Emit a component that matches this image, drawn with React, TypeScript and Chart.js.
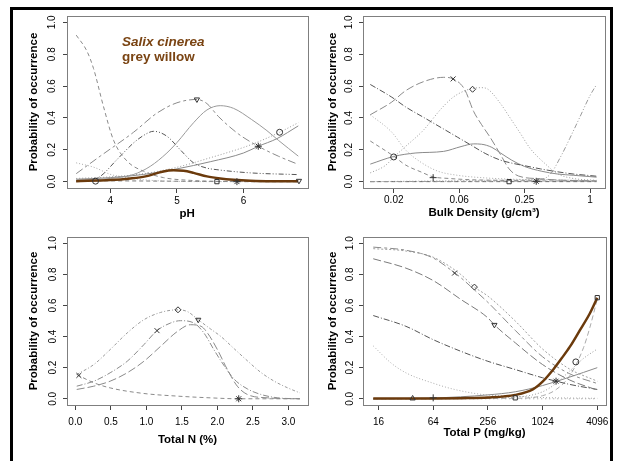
import React, { useEffect, useRef } from "react";
import { Chart, registerables } from "chart.js";

Chart.register(...registerables);

const FONT = '"Liberation Sans", Arial, Helvetica, sans-serif';
const W = 622;
const H = 461;

const yTicks = [0, 0.2, 0.4, 0.6, 0.8, 1.0];
const yTickLabels = ["0.0", "0.2", "0.4", "0.6", "0.8", "1.0"];
const yTitle = "Probability of occurrence";
const speciesLatin = "Salix cinerea";
const speciesCommon = "grey willow";

// ---------- Panel 1: pH ----------
const phTicks = [4, 5, 6];
const phTickLabels = ["4", "5", "6"];
const phDashFalling = [[3.49, 0.92], [3.65, 0.82], [3.75, 0.71], [3.9, 0.47], [4.05, 0.26], [4.25, 0.13], [4.5, 0.065], [4.8, 0.025], [5.2, 0.008], [5.6, 0.002], [6.2, 0], [6.82, 0]];
const phLongDashDot = [[3.49, 0.05], [3.85, 0.16], [4.35, 0.31], [4.7, 0.43], [5.0, 0.495], [5.3, 0.516], [5.45, 0.49], [5.62, 0.41], [5.92, 0.3], [6.22, 0.222], [6.52, 0.16], [6.82, 0.108]];
const phSolidPeak = [[3.49, 0.01], [4.0, 0.02], [4.35, 0.045], [4.6, 0.096], [4.85, 0.18], [5.0, 0.245], [5.25, 0.37], [5.45, 0.45], [5.65, 0.477], [5.85, 0.46], [6.12, 0.39], [6.35, 0.32], [6.52, 0.26], [6.82, 0.16]];
const phDashDotDot = [[3.49, 0.0], [3.7, 0.01], [3.85, 0.033], [4.1, 0.138], [4.35, 0.243], [4.5, 0.29], [4.65, 0.316], [4.85, 0.285], [5.05, 0.2], [5.25, 0.118], [5.45, 0.085], [5.6, 0.075], [6.1, 0.055], [6.82, 0.044]];
const phSolidRising = [[3.49, 0.015], [4.0, 0.025], [4.5, 0.045], [5.0, 0.08], [5.5, 0.125], [6.0, 0.18], [6.22, 0.222], [6.5, 0.27], [6.82, 0.35]];
const phDottedRising = [[3.49, 0.02], [4.0, 0.03], [4.5, 0.05], [5.0, 0.09], [5.5, 0.15], [6.0, 0.215], [6.22, 0.25], [6.54, 0.31], [6.82, 0.37]];
const phDottedFalling = [[3.49, 0.118], [3.77, 0.088], [4.0, 0.046], [4.25, 0.025], [4.5, 0.012], [4.8, 0.004], [5.5, 0], [6.82, 0]];
const phZero = [[3.49, 0.006], [4.5, 0.004], [5.5, 0.001], [6.82, 0]];
const phWillow = [[3.49, 0.003], [4.0, 0.01], [4.3, 0.02], [4.53, 0.033], [4.78, 0.062], [4.95, 0.071], [5.1, 0.068], [5.25, 0.055], [5.45, 0.033], [5.65, 0.02], [5.85, 0.012], [6.1, 0.006], [6.4, 0.003], [6.82, 0.003]];
const phMarkX = [5.3, 6.54, 6.22, 3.78, 5.6, 5.9, 6.83];
const phMarkY = [0.516, 0.31, 0.222, 0.003, 0.0, 0.0, 0.005];
const phMarkStyle = ["triDown", "circle", "star", "circle", "rect", "star", "triDown"];

// ---------- Panel 2: Bulk density ----------
const bdTicks = [0.015625, 0.0625, 0.25, 1];
const bdTickLabels = ["0.02", "0.06", "0.25", "1"];
const bdDarkDashDot = [[0.0095, 0.61], [0.015, 0.53], [0.02, 0.47], [0.03, 0.4], [0.045, 0.33], [0.06, 0.28], [0.08, 0.23], [0.11, 0.175], [0.15, 0.135], [0.2, 0.113], [0.25, 0.1], [0.35, 0.08], [0.5, 0.062], [0.7, 0.048], [1.0, 0.038], [1.15, 0.034]];
const bdLongDash = [[0.0095, 0.42], [0.015, 0.5], [0.02, 0.57], [0.03, 0.63], [0.045, 0.655], [0.055, 0.645], [0.07, 0.58], [0.085, 0.44], [0.1, 0.36], [0.12, 0.28], [0.15, 0.17], [0.18, 0.08], [0.22, 0.035], [0.35, 0.018], [0.5, 0.01], [1.15, 0.004]];
const bdDottedPeak = [[0.0095, 0.055], [0.013, 0.1], [0.016, 0.16], [0.02, 0.22], [0.029, 0.32], [0.043, 0.46], [0.055, 0.53], [0.07, 0.57], [0.083, 0.585], [0.1, 0.59], [0.115, 0.58], [0.15, 0.49], [0.184, 0.4], [0.23, 0.3], [0.28, 0.21], [0.39, 0.11], [0.5, 0.05], [0.7, 0.02], [1.15, 0.008]];
const bdDottedFalling = [[0.0095, 0.42], [0.015, 0.31], [0.02, 0.2], [0.028, 0.12], [0.04, 0.065], [0.06, 0.04], [0.1, 0.025], [0.2, 0.015], [0.5, 0.01], [1.15, 0.005]];
const bdSolid = [[0.0095, 0.11], [0.0156, 0.158], [0.025, 0.18], [0.045, 0.19], [0.065, 0.22], [0.085, 0.237], [0.1, 0.235], [0.125, 0.215], [0.15, 0.18], [0.19, 0.135], [0.25, 0.095], [0.36, 0.065], [0.5, 0.048], [0.7, 0.04], [1.15, 0.028]];
const bdDashFalling = [[0.0095, 0.255], [0.0156, 0.16], [0.02, 0.105], [0.028, 0.06], [0.036, 0.03], [0.05, 0.02], [0.08, 0.012], [0.15, 0.008], [0.3, 0.005], [1.15, 0.003]];
const bdRisingRight = [[0.0095, 0.0], [0.1, 0.002], [0.25, 0.004], [0.33, 0.008], [0.43, 0.046], [0.55, 0.17], [0.65, 0.27], [0.8, 0.4], [1.0, 0.54], [1.15, 0.61]];
const bdZero = [[0.0095, 0.0], [1.15, 0.0]];
const bdNearZero = [[0.0095, 0.0], [0.1, 0.008], [0.3, 0.012], [1.15, 0.005]];
const bdMarkX = [0.055, 0.083, 0.0156, 0.036, 0.18, 0.32];
const bdMarkY = [0.645, 0.58, 0.155, 0.025, 0.0, 0.002];
const bdMarkStyle = ["crossRot", "rectRot", "circle", "cross", "rect", "star"];

// ---------- Panel 3: Total N ----------
const nTicks = [0, 0.5, 1.0, 1.5, 2.0, 2.5, 3.0];
const nTickLabels = ["0.0", "0.5", "1.0", "1.5", "2.0", "2.5", "3.0"];
const nWide = [[0.02, 0.156], [0.26, 0.22], [0.49, 0.316], [0.73, 0.423], [0.965, 0.508], [1.2, 0.555], [1.445, 0.572], [1.58, 0.56], [1.73, 0.508], [1.9, 0.45], [2.05, 0.4], [2.24, 0.32], [2.42, 0.245], [2.61, 0.17], [2.8, 0.113], [2.99, 0.07], [3.16, 0.038]];
const nDashDot = [[0.02, 0.081], [0.26, 0.113], [0.49, 0.167], [0.73, 0.241], [0.965, 0.348], [1.15, 0.438], [1.34, 0.487], [1.48, 0.502], [1.67, 0.487], [1.81, 0.423], [1.95, 0.316], [2.1, 0.209], [2.24, 0.124], [2.42, 0.064], [2.61, 0.028], [2.85, 0.006], [3.16, 0.0]];
const nLongDash = [[0.02, 0.06], [0.26, 0.081], [0.49, 0.113], [0.73, 0.167], [0.965, 0.241], [1.2, 0.337], [1.44, 0.434], [1.62, 0.476], [1.77, 0.466], [1.86, 0.423], [2.0, 0.316], [2.14, 0.188], [2.28, 0.081], [2.42, 0.028], [2.71, 0.006], [3.16, 0.0]];
const nDashFalling = [[0.02, 0.156], [0.26, 0.103], [0.49, 0.07], [0.965, 0.034], [1.44, 0.017], [1.9, 0.006], [2.3, 0.0], [3.16, 0.0]];
const nMarkX = [1.445, 1.73, 1.15, 2.3, 0.05];
const nMarkY = [0.572, 0.508, 0.438, 0.0, 0.15];
const nMarkStyle = ["rectRot", "triDown", "crossRot", "star", "crossRot"];

// ---------- Panel 4: Total P ----------
const pTicks = [16, 64, 256, 1024, 4096];
const pTickLabels = ["16", "64", "256", "1024", "4096"];
const pTopCross = [[14, 0.975], [32, 0.955], [64, 0.905], [110, 0.81], [128, 0.78], [182, 0.7], [256, 0.62], [512, 0.44], [1024, 0.27], [2048, 0.16], [4096, 0.098]];
const pTopDiamond = [[14, 0.965], [32, 0.95], [64, 0.91], [128, 0.8], [182, 0.718], [256, 0.66], [512, 0.5], [1024, 0.32], [2048, 0.19], [4096, 0.113]];
const pLongDash = [[14, 0.9], [32, 0.84], [64, 0.76], [128, 0.64], [256, 0.52], [302, 0.475], [512, 0.36], [1024, 0.22], [2048, 0.12], [4096, 0.056]];
const pDarkDashDot = [[14, 0.535], [32, 0.466], [64, 0.38], [128, 0.306], [256, 0.241], [512, 0.188], [1024, 0.135], [1448, 0.113], [2048, 0.092], [4096, 0.06]];
const pDottedFalling = [[14, 0.34], [22, 0.23], [32, 0.167], [64, 0.1], [110, 0.06], [220, 0.028], [512, 0.015], [1024, 0.008], [4096, 0.003]];
const pSolidRising = [[14, 0.0], [64, 0.005], [256, 0.025], [512, 0.045], [1024, 0.085], [2048, 0.14], [4096, 0.2]];
const pDottedRising = [[14, 0.0], [256, 0.005], [512, 0.01], [1024, 0.045], [1448, 0.1], [2048, 0.18], [2896, 0.26], [4096, 0.32]];
const pDashSteep = [[14, 0.0], [512, 0.003], [1024, 0.02], [1448, 0.06], [2048, 0.15], [2896, 0.33], [3400, 0.46], [4096, 0.64]];
const pZero = [[14, 0.0], [4096, 0.0]];
const pWillow = [[14, 0.001], [64, 0.002], [128, 0.004], [256, 0.008], [512, 0.025], [800, 0.06], [1024, 0.11], [1350, 0.19], [1660, 0.26], [2048, 0.335], [2630, 0.44], [3400, 0.55], [4096, 0.65]];
const pMarkX = [110, 182, 302, 1440, 2380, 4096, 512, 38, 64];
const pMarkY = [0.808, 0.718, 0.475, 0.113, 0.237, 0.65, 0.006, 0.002, 0.006];
const pMarkStyle = ["crossRot", "rectRot", "triDown", "star", "circle", "rect", "rect", "triangle", "cross"];

const BROWN = "#6b3a0c";
const DASH = [4, 3];
const LONGDASH = [8, 3];
const DOT = [1, 2];
const DASHDOT = [6, 2, 1, 2];
const DASHDOTDOT = [5, 2, 1, 2, 1, 2];
const TWODASH = [8, 3, 3, 3];

type Curve = { pts: number[][]; color: string; dash: number[]; width?: number };
type Panel = {
  id: string;
  box: number[];
  xType: string;
  xMin: number;
  xMax: number;
  xTicks: number[];
  xLabels: string[];
  xTitle: string;
  xTickY: number;
  xTitleY: number;
  yTickOff: number;
  yTitleOff: number;
  curves: Curve[];
  markX: number[];
  markY: number[];
  markStyle: string[];
  species?: boolean;
};

const panels: Panel[] = [
  {
    id: "ph", box: [67, 16, 307.5, 188], xType: "linear", xMin: 3.352, xMax: 6.958,
    xTicks: phTicks, xLabels: phTickLabels, xTitle: "pH", xTickY: 201, xTitleY: 214, yTickOff: 14.5, yTitleOff: 33,
    curves: [
      { pts: phWillow, color: BROWN, dash: [], width: 2.5 },
      { pts: phDashFalling, color: "#8a8a8a", dash: DASH },
      { pts: phLongDashDot, color: "#8a8a8a", dash: TWODASH },
      { pts: phSolidPeak, color: "#9a9a9a", dash: [] },
      { pts: phDashDotDot, color: "#555555", dash: DASHDOTDOT },
      { pts: phSolidRising, color: "#8a8a8a", dash: [] },
      { pts: phDottedRising, color: "#9a9a9a", dash: DOT },
      { pts: phDottedFalling, color: "#aaaaaa", dash: DOT },
      { pts: phZero, color: "#777777", dash: DASH },
    ],
    markX: phMarkX, markY: phMarkY, markStyle: phMarkStyle, species: true,
  },
  {
    id: "bd", box: [363, 16, 605, 188], xType: "logarithmic", xMin: 0.00814, xMax: 1.374,
    xTicks: bdTicks, xLabels: bdTickLabels, xTitle: "Bulk Density (g/cm\u00B3)", xTickY: 200.5, xTitleY: 213, yTickOff: 13.5, yTitleOff: 30.5,
    curves: [
      { pts: bdDarkDashDot, color: "#555555", dash: DASHDOT },
      { pts: bdLongDash, color: "#8a8a8a", dash: LONGDASH },
      { pts: bdDottedPeak, color: "#9a9a9a", dash: DOT },
      { pts: bdDottedFalling, color: "#aaaaaa", dash: DOT },
      { pts: bdSolid, color: "#8a8a8a", dash: [] },
      { pts: bdDashFalling, color: "#8a8a8a", dash: DASH },
      { pts: bdRisingRight, color: "#9a9a9a", dash: DASHDOTDOT },
      { pts: bdZero, color: "#666666", dash: DASH },
      { pts: bdNearZero, color: "#aaaaaa", dash: DOT },
    ],
    markX: bdMarkX, markY: bdMarkY, markStyle: bdMarkStyle,
  },
  {
    id: "n", box: [67, 237, 308, 405], xType: "linear", xMin: -0.117, xMax: 3.275,
    xTicks: nTicks, xLabels: nTickLabels, xTitle: "Total N (%)", xTickY: 422, xTitleY: 440, yTickOff: 14, yTitleOff: 33.5,
    curves: [
      { pts: nWide, color: "#9a9a9a", dash: [3, 2, 1, 2] },
      { pts: nDashDot, color: "#8a8a8a", dash: DASHDOT },
      { pts: nLongDash, color: "#8a8a8a", dash: LONGDASH },
      { pts: nDashFalling, color: "#8a8a8a", dash: DASH },
    ],
    markX: nMarkX, markY: nMarkY, markStyle: nMarkStyle,
  },
  {
    id: "p", box: [363, 237, 606, 405], xType: "logarithmic", xMin: 10.8, xMax: 5110,
    xTicks: pTicks, xLabels: pTickLabels, xTitle: "Total P (mg/kg)", xTickY: 422, xTitleY: 433, yTickOff: 13, yTitleOff: 30.5,
    curves: [
      { pts: pWillow, color: BROWN, dash: [], width: 2.5 },
      { pts: pTopCross, color: "#8a8a8a", dash: TWODASH },
      { pts: pTopDiamond, color: "#a0a0a0", dash: [2, 2] },
      { pts: pLongDash, color: "#7a7a7a", dash: LONGDASH },
      { pts: pDarkDashDot, color: "#555555", dash: DASHDOT },
      { pts: pDottedFalling, color: "#aaaaaa", dash: DOT },
      { pts: pSolidRising, color: "#8a8a8a", dash: [] },
      { pts: pDottedRising, color: "#9a9a9a", dash: DOT },
      { pts: pDashSteep, color: "#aaaaaa", dash: [5, 3] },
      { pts: pZero, color: "#999999", dash: [1, 3] },
    ],
    markX: pMarkX, markY: pMarkY, markStyle: pMarkStyle,
  },
];

function PanelChart({ panel }: { panel: Panel }) {
  const ref = useRef<HTMLCanvasElement | null>(null);
  useEffect(() => {
    const canvas = ref.current;
    if (!canvas) return;
    const [l, t, r, b] = panel.box;
    const deco = {
      id: "deco_" + panel.id,
      afterDraw(chart: any) {
        const ctx = chart.ctx;
        const a = chart.chartArea;
        ctx.save();
        ctx.strokeStyle = "#7f7f7f";
        ctx.lineWidth = 1;
        ctx.setLineDash([]);
        ctx.strokeRect(Math.round(a.left) + 0.5, Math.round(a.top) + 0.5, Math.round(a.right - a.left), Math.round(a.bottom - a.top));
        ctx.fillStyle = "#000";
        ctx.textAlign = "center";
        ctx.textBaseline = "middle";
        ctx.font = `10px ${FONT}`;
        yTicks.forEach((v, i) => {
          const py = chart.scales.y.getPixelForValue(v);
          ctx.save();
          ctx.translate(a.left - panel.yTickOff, py);
          ctx.rotate(-Math.PI / 2);
          ctx.fillText(yTickLabels[i], 0, 0);
          ctx.restore();
        });
        panel.xTicks.forEach((v, i) => {
          const px = chart.scales.x.getPixelForValue(v);
          ctx.fillText(panel.xLabels[i], px, panel.xTickY);
        });
        ctx.font = `bold 11.5px ${FONT}`;
        ctx.save();
        ctx.translate(a.left - panel.yTitleOff, (a.top + a.bottom) / 2);
        ctx.rotate(-Math.PI / 2);
        ctx.fillText(yTitle, 0, 0);
        ctx.restore();
        ctx.fillText(panel.xTitle, (a.left + a.right) / 2, panel.xTitleY);
        if (panel.species) {
          ctx.fillStyle = "#7a4413";
          ctx.textAlign = "left";
          ctx.font = `italic bold 13.5px ${FONT}`;
          ctx.fillText(speciesLatin, 122, 42);
          ctx.font = `bold 13.5px ${FONT}`;
          ctx.fillText(speciesCommon, 122, 57);
        }
        ctx.restore();
      },
    };

    const markerDataset: any = {
      type: "line",
      showLine: false,
      data: panel.markX.map((x, i) => ({ x, y: panel.markY[i] })),
      pointStyle: panel.markStyle.map((s) => (s === "triDown" ? "triangle" : s)),
      rotation: panel.markStyle.map((s) => (s === "triDown" ? 180 : 0)),
      pointRadius: panel.markStyle.map((s) => (s === "star" || s === "cross" || s === "crossRot" ? 3.5 : 3)),
      pointBorderColor: "#333",
      pointBackgroundColor: "rgba(0,0,0,0)",
      pointBorderWidth: 1,
      borderColor: "#333",
      backgroundColor: "rgba(0,0,0,0)",
    };

    const lineDatasets: any[] = panel.curves.map((c) => ({
      type: "line",
      data: c.pts.map(([x, y]) => ({ x, y })),
      borderColor: c.color,
      borderWidth: c.width ?? 1,
      borderDash: c.dash,
      pointRadius: 0,
      fill: false,
      cubicInterpolationMode: "monotone",
    }));

    const chart = new Chart(canvas, {
      type: "line",
      data: { datasets: [markerDataset, ...lineDatasets] },
      options: {
        animation: false,
        responsive: false,
        devicePixelRatio: 1,
        events: [],
        layout: { padding: { left: l - 10, top: t, right: W - r, bottom: H - b - 10 } },
        plugins: { legend: { display: false }, tooltip: { enabled: false }, title: { display: false } },
        scales: {
          x: {
            type: panel.xType as any,
            min: panel.xMin,
            max: panel.xMax,
            afterBuildTicks: (s: any) => {
              s.ticks = panel.xTicks.map((v) => ({ value: v }));
            },
            afterFit: (s: any) => {
              s.height = 10;
              s.paddingLeft = 0;
              s.paddingRight = 0;
              s.paddingTop = 0;
              s.paddingBottom = 0;
            },
            ticks: { display: false },
            grid: { drawOnChartArea: false, drawTicks: true, tickLength: 5, color: "#444" },
            border: { display: false },
          },
          y: {
            type: "linear",
            min: -0.04,
            max: 1.04,
            afterBuildTicks: (s: any) => {
              s.ticks = yTicks.map((v) => ({ value: v }));
            },
            afterFit: (s: any) => {
              s.width = 10;
              s.paddingTop = 0;
              s.paddingBottom = 0;
              s.paddingLeft = 0;
              s.paddingRight = 0;
            },
            ticks: { display: false },
            grid: { drawOnChartArea: false, drawTicks: true, tickLength: 4, color: "#444" },
            border: { display: false },
          },
        },
      } as any,
      plugins: [deco],
    });
    return () => chart.destroy();
  }, [panel]);
  return (
    <canvas
      ref={ref}
      width={W}
      height={H}
      style={{ position: "absolute", left: 0, top: 0, width: W, height: H }}
    />
  );
}

export default function App() {
  return (
    <div style={{ position: "absolute", left: 0, top: 0, width: W, height: H, background: "#fff", overflow: "hidden" }}>
      <div
        style={{
          position: "absolute",
          left: 10,
          top: 7,
          width: 597,
          height: 480,
          borderTop: "3px solid #000",
          borderLeft: "3px solid #000",
          borderRight: "3px solid #000",
        }}
      />
      {panels.map((p) => (
        <PanelChart key={p.id} panel={p} />
      ))}
    </div>
  );
}
